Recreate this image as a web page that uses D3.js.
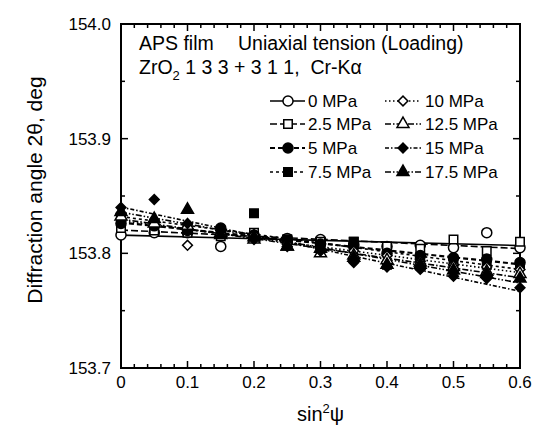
<!DOCTYPE html>
<html>
<head>
<meta charset="utf-8">
<script src="https://cdn.jsdelivr.net/npm/d3@7"></script>
<style>
  body { margin: 0; background: #fff; }
  svg { display: block; font-family: "Liberation Sans", Arial, sans-serif; }
</style>
</head>
<body>
<svg id="chart" width="534" height="427"></svg>
<script>
// sin^2 psi positions
const sinPsi = [0, 0.05, 0.1, 0.15, 0.2, 0.25, 0.3, 0.35, 0.4, 0.45, 0.5, 0.55, 0.6];

// diffraction angle 2theta (deg) for each applied stress
const s0   = [153.816, 153.818, 153.818, 153.806, 153.815, 153.813, 153.812, 153.808, 153.806, 153.807, 153.805, 153.818, 153.805];
const s2_5 = [153.822, 153.820, 153.818, 153.815, 153.818, 153.812, 153.810, 153.810, 153.806, 153.804, 153.812, 153.802, 153.810];
const s5   = [153.826, 153.824, 153.820, 153.822, 153.816, 153.810, 153.808, 153.806, 153.800, 153.798, 153.796, 153.795, 153.792];
const s7_5 = [153.830, 153.826, 153.822, 153.818, 153.835, 153.812, 153.806, 153.810, 153.790, 153.796, 153.792, 153.790, 153.790];
const s10  = [153.835, 153.828, 153.807, 153.820, 153.816, 153.808, 153.804, 153.802, 153.798, 153.793, 153.790, 153.788, 153.786];
const s12_5= [153.832, 153.826, 153.824, 153.818, 153.812, 153.806, 153.800, 153.798, 153.794, 153.792, 153.788, 153.784, 153.782];
const s15  = [153.840, 153.847, 153.826, 153.820, 153.812, 153.806, 153.802, 153.792, 153.788, 153.786, 153.780, 153.778, 153.770];
const s17_5= [153.836, 153.830, 153.838, 153.816, 153.814, 153.806, 153.804, 153.796, 153.790, 153.790, 153.785, 153.782, 153.778];

const seriesNames = ["0 MPa", "2.5 MPa", "5 MPa", "7.5 MPa", "10 MPa", "12.5 MPa", "15 MPa", "17.5 MPa"];
const seriesValues = [s0, s2_5, s5, s7_5, s10, s12_5, s15, s17_5];

const xTicks = [0, 0.1, 0.2, 0.3, 0.4, 0.5, 0.6];
const yTicks = [153.7, 153.8, 153.9, 154.0];

// marker shape, filled?, dash pattern
const styles = [
  { sym: "circle",   fill: false, dash: null },
  { sym: "square",   fill: false, dash: "7,3" },
  { sym: "circle",   fill: true,  dash: "5,3", w: 2.2 },
  { sym: "square",   fill: true,  dash: "3,3" },
  { sym: "diamond",  fill: false, dash: "1.5,2.5" },
  { sym: "triangle", fill: false, dash: "6,2,1.5,2" },
  { sym: "diamond",  fill: true,  dash: "4,2,1.5,2" },
  { sym: "triangle", fill: true,  dash: "6,2,1.5,2,1.5,2" }
];

function markerPath(name) {
  if (name === "circle") return d3.symbol().type(d3.symbolCircle).size(80)();
  if (name === "square") return d3.symbol().type(d3.symbolSquare).size(72)();
  if (name === "triangle") return d3.symbol().type(d3.symbolTriangle).size(62)();
  return d3.symbol().type(d3.symbolSquare).size(48)();
}
function markerRot(name) { return name === "diamond" ? " rotate(45)" : ""; }

const svg = d3.select("#chart");
const m = { left: 121, right: 520, top: 24, bottom: 368 };

const x = d3.scaleLinear().domain([0, 0.6]).range([m.left, m.right]);
const y = d3.scaleLinear().domain([153.7, 154.0]).range([m.bottom, m.top]);

// frame
svg.append("rect")
  .attr("x", m.left).attr("y", m.top)
  .attr("width", m.right - m.left).attr("height", m.bottom - m.top)
  .attr("fill", "none").attr("stroke", "#000").attr("stroke-width", 2);

// ticks (inward on all sides)
const xMinor = d3.range(0, 0.6001, 0.02);
const yMinor = d3.range(153.7, 154.0001, 0.05);
const tickG = svg.append("g").attr("stroke", "#000").attr("stroke-width", 1.5);
xMinor.forEach(v => {
  const major = Math.abs(v * 10 - Math.round(v * 10)) < 1e-6;
  const len = major ? 7 : 4;
  tickG.append("line").attr("x1", x(v)).attr("x2", x(v)).attr("y1", m.bottom).attr("y2", m.bottom - len);
  tickG.append("line").attr("x1", x(v)).attr("x2", x(v)).attr("y1", m.top).attr("y2", m.top + len);
});
yMinor.forEach(v => {
  const major = Math.abs(v * 10 - Math.round(v * 10)) < 1e-6;
  const len = major ? 7 : 4;
  tickG.append("line").attr("y1", y(v)).attr("y2", y(v)).attr("x1", m.left).attr("x2", m.left + len);
  tickG.append("line").attr("y1", y(v)).attr("y2", y(v)).attr("x1", m.right).attr("x2", m.right - len);
});

// tick labels
svg.append("g").selectAll("text").data(xTicks).join("text")
  .attr("x", d => x(d)).attr("y", m.bottom + 20)
  .attr("text-anchor", "middle").attr("font-size", 17)
  .text(d => d === 0 ? "0" : d3.format(".1f")(d));
svg.append("g").selectAll("text").data(yTicks).join("text")
  .attr("x", m.left - 10).attr("y", d => y(d) + 6)
  .attr("text-anchor", "end").attr("font-size", 17)
  .text(d => d3.format(".1f")(d));

// axis titles
svg.append("text")
  .attr("transform", "translate(42,190) rotate(-90)")
  .attr("text-anchor", "middle").attr("font-size", 21)
  .text("Diffraction angle 2\u03B8, deg");
const xt = svg.append("text").attr("x", (m.left + m.right) / 2).attr("y", 421)
  .attr("text-anchor", "middle").attr("font-size", 20);
xt.append("tspan").text("sin");
xt.append("tspan").attr("font-size", 13).attr("dy", -8).text("2");
xt.append("tspan").attr("dy", 8).text("\u03C8");

// annotation text
svg.append("text").attr("x", 139).attr("y", 50).attr("font-size", 19.5).text("APS film");
svg.append("text").attr("x", 238).attr("y", 50).attr("font-size", 19.5).text("Uniaxial tension (Loading)");
const zr = svg.append("text").attr("x", 139).attr("y", 74).attr("font-size", 19.5);
zr.append("tspan").text("ZrO");
zr.append("tspan").attr("font-size", 13).attr("dy", 6).text("2");
zr.append("tspan").attr("dy", -6).attr("xml:space", "preserve").style("white-space", "pre")
  .text(" 1 3 3 + 3 1 1,  Cr-K\u03B1");

// linear fits
function fit(xs, ys) {
  const mx = d3.mean(xs), my = d3.mean(ys);
  let num = 0, den = 0;
  xs.forEach((xv, i) => { num += (xv - mx) * (ys[i] - my); den += (xv - mx) * (xv - mx); });
  const b = num / den;
  return [my - b * mx, b];
}

const plot = svg.append("g");

seriesValues.forEach((vals, i) => {
  const st = styles[i];
  const [a, b] = fit(sinPsi, vals);
  plot.append("line")
    .attr("x1", x(0)).attr("y1", y(a))
    .attr("x2", x(0.6)).attr("y2", y(a + b * 0.6))
    .attr("stroke", "#000").attr("stroke-width", st.w || 1.6)
    .attr("stroke-dasharray", st.dash);
});

seriesValues.forEach((vals, i) => {
  const st = styles[i];
  plot.append("g").selectAll("path").data(vals).join("path")
    .attr("transform", (d, j) => "translate(" + x(sinPsi[j]) + "," + y(d) + ")" + markerRot(st.sym))
    .attr("d", markerPath(st.sym))
    .attr("fill", st.fill ? "#000" : "#fff")
    .attr("stroke", "#000").attr("stroke-width", 1.5);
});

// legend
const legRows = [101, 124, 148, 172];
const legCols = [{ x1: 270, x2: 305, mx: 288, tx: 308 }, { x1: 385, x2: 421, mx: 403, tx: 425 }];
seriesNames.forEach((name, i) => {
  const st = styles[i];
  const c = legCols[Math.floor(i / 4)];
  const ry = legRows[i % 4];
  const g = svg.append("g");
  g.append("line").attr("x1", c.x1).attr("x2", c.x2).attr("y1", ry).attr("y2", ry)
    .attr("stroke", "#000").attr("stroke-width", st.w || 1.6).attr("stroke-dasharray", st.dash);
  g.append("path").attr("transform", "translate(" + c.mx + "," + ry + ")" + markerRot(st.sym))
    .attr("d", markerPath(st.sym))
    .attr("fill", st.fill ? "#000" : "#fff").attr("stroke", "#000").attr("stroke-width", 1.5);
  g.append("text").attr("x", c.tx).attr("y", ry + 6).attr("font-size", 17).text(name);
});
</script>
</body>
</html>
